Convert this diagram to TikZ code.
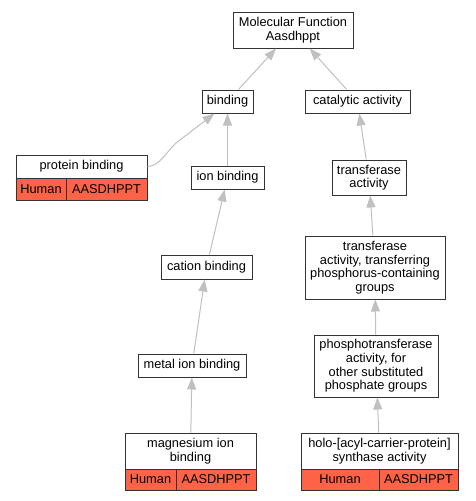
\documentclass[tikz,border=0pt]{standalone}
\usepackage{fontspec}
\setmainfont{Liberation Sans}
\usetikzlibrary{arrows.meta,calc}
\definecolor{tomatored}{RGB}{255,99,71}
\definecolor{edgegray}{RGB}{192,192,192}
\definecolor{boxline}{RGB}{51,51,51}
\tikzset{
  term/.style={draw=boxline, line width=1pt, fill=white, rectangle, inner sep=0pt, align=center,
    font=\fontsize{12.8}{13.6}\selectfont},
  gene/.style={term, fill=tomatored},
  isa/.style={draw=edgegray, line width=1pt, -{Triangle[length=12pt,width=9pt]}},
}
\begin{document}
\begin{tikzpicture}[x=1pt,y=-1pt]
\useasboundingbox (0,0) rectangle (475,501);
% nodes
\node[term, minimum width=120pt, minimum height=36pt] (mf) at (293,30) {Molecular Function\\Aasdhppt};
\node[term, minimum width=51pt, minimum height=23pt] (binding) at (227.5,101.5) {binding};
\node[term, minimum width=105pt, minimum height=23pt] (catalytic) at (357.5,101.5) {catalytic activity};
\node[term, minimum width=131pt, minimum height=23pt] (pb) at (81.5,166.5) {protein binding};
\node[gene, minimum width=50pt, minimum height=22pt] (pbh) at (41,189) {Human};
\node[gene, minimum width=81pt, minimum height=22pt] (pbg) at (106.5,189) {AASDHPPT};
\node[term, minimum width=73pt, minimum height=23pt] (ion) at (227.5,177.5) {ion binding};
\node[term, minimum width=74pt, minimum height=35pt] (transf) at (369,177.5) {transferase\\activity};
\node[term, minimum width=140pt, minimum height=63pt] (phosgrp) at (375,267.5) {transferase\\activity, transferring\\phosphorus-containing\\groups};
\node[term, minimum width=91pt, minimum height=24pt] (cation) at (206.5,267) {cation binding};
\node[term, minimum width=108pt, minimum height=23pt] (metal) at (192,365.5) {metal ion binding};
\node[term, minimum width=124pt, minimum height=62pt] (phospho) at (376,366) {phosphotransferase\\activity, for\\other substituted\\phosphate groups};
\node[term, minimum width=131pt, minimum height=36pt] (mg) at (190.5,451) {magnesium ion\\binding};
\node[gene, minimum width=51pt, minimum height=21pt] (mgh) at (150.5,479.5) {Human};
\node[gene, minimum width=80pt, minimum height=21pt] (mgg) at (216,479.5) {AASDHPPT};
\node[term, minimum width=157pt, minimum height=36pt] (holo) at (379.5,451) {holo-[acyl-carrier-protein]\\synthase activity};
\node[gene, minimum width=78pt, minimum height=21pt] (holoh) at (340,479.5) {Human};
\node[gene, minimum width=79pt, minimum height=21pt] (holog) at (418.5,479.5) {AASDHPPT};
% connector helpers
\coordinate (pbbend) at (176,143);
\coordinate (bindtip) at ($(binding.south)+(-13,0)$);
% edges
\draw[isa] (binding) -- (mf);
\draw[isa] (catalytic) -- (mf);
\draw[isa] (pb.east) .. controls +(12,0) and +(-9,8) .. (pbbend) -- (bindtip);
\draw[isa] (ion) -- (binding);
\draw[isa] (cation) -- (ion);
\draw[isa] (metal) -- (cation);
\draw[isa] (mg) -- (metal);
\draw[isa] (transf) -- (catalytic);
\draw[isa] (phosgrp) -- (transf);
\draw[isa] (phospho) -- (phosgrp);
\draw[isa] (holo) -- (phospho);
\end{tikzpicture}
\end{document}
